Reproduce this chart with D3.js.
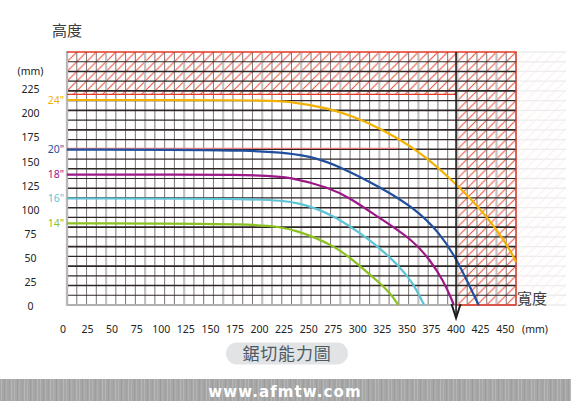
<!DOCTYPE html>
<html><head><meta charset="utf-8">
<script src="https://cdn.jsdelivr.net/npm/d3@7"></script>
<style>html,body{margin:0;padding:0;background:#fff;}svg{display:block;}</style>
</head><body>
<script>
// ---- data ----
const xTicks = [0,25,50,75,100,125,150,175,200,225,250,275,300,325,350,375,400,425,450];
const yTicks = [0,25,50,75,100,125,150,175,200,225];
const seriesNames = ['24"','20"','18"','16"','14"'];
const seriesColors = ['#f3b100','#1f4f9e','#9c1787','#5cc4d6','#8bc21f'];
const curve24X = [4,203.5,231,271.7,295.1,322.6,363.3,395.9,421.3,441.7,454.9,461];
const curve24Y = [212.3,212.3,210.8,203.5,195.3,183.3,159,129.4,103.6,77.7,57,44.5];
const curve20X = [4,210.7,254.7,281.9,322.6,356.2,383.7,401,414.2,423];
const curve20Y = [161,161,153.6,143.2,122.2,101.5,74.6,46.6,18.6,0];
const curve18X = [4,200.5,231,271.7,292.1,320.6,356.2,373.5,386.7,395.9,397.6];
const curve18Y = [135.1,135.1,132.6,121.2,110.8,91.1,67.3,46.6,25.9,5.2,0];
const curve16X = [4,207.6,241.2,275.1,302.3,320.9,343,356.2,366.4,367.6];
const curve16Y = [110.3,110.3,106.2,93.2,74.3,60.4,39.4,22.8,2.1,0];
const curve14X = [4,205.6,237.8,278.5,298.9,320.9,332.8,339.9,341];
const curve14Y = [84.6,84.6,77.7,60.4,43.2,24.1,12.4,2.1,0];
const refLineX = [4,341];
const refLineY = [162.1,162.1];
const limitWidth = 400;
const limitHeight = 218.2;

const W = 571, H = 401;
const svg = d3.select('body').append('svg').attr('width',W).attr('height',H);

const x = d3.scaleLinear().domain([0,461]).range([63,516]);
const y = d3.scaleLinear().domain([0,262]).range([305,52]);
const gx = d3.scaleLinear().domain([0,46]).range([x(4.1), x(461)]);
const gy = d3.scaleLinear().domain([0,26]).range([y(0), y(262)]);
const L = gx(0), R = gx(46), T = gy(26), B = gy(0);

const defs = svg.append('defs');
const hp = defs.append('pattern').attr('id','hatch').attr('patternUnits','userSpaceOnUse')
  .attr('width',9.76).attr('height',9.73).attr('x',L).attr('y',T);
hp.append('path').attr('d','M0,9.73 L9.76,0 M-2,2 L2,-2 M7.76,11.73 L11.76,7.73')
  .attr('stroke','#ef4a36').attr('stroke-width',1);
const bp = defs.append('pattern').attr('id','brush').attr('patternUnits','userSpaceOnUse')
  .attr('width',13).attr('height',22);
bp.append('rect').attr('width',13).attr('height',22).attr('fill','#a7a7a7');
[[1,'#b4b4b4'],[4,'#9c9c9c'],[6,'#b0b0b0'],[9,'#a0a0a0'],[11,'#b8b8b8']].forEach(([px,c])=>{
  bp.append('rect').attr('x',px).attr('y',0).attr('width',1).attr('height',22).attr('fill',c);
});

// faint extension to the right
const ext = svg.append('g').attr('opacity',0.09);
ext.append('rect').attr('x',R).attr('y',T).attr('width',50).attr('height',B-T).attr('fill','url(#hatch)');
d3.range(27).forEach(i=>{
  ext.append('line').attr('x1',R).attr('x2',R+50).attr('y1',gy(i)).attr('y2',gy(i))
    .attr('stroke','#444').attr('stroke-width',1.3);
});

// hatched zones
svg.append('rect').attr('x',L).attr('y',T).attr('width',R-L).attr('height',y(limitHeight)-T)
  .attr('fill','url(#hatch)');
svg.append('rect').attr('x',x(limitWidth)).attr('y',y(limitHeight)).attr('width',R-x(limitWidth))
  .attr('height',B-y(limitHeight)).attr('fill','url(#hatch)');

// grid
const grid = svg.append('g');
d3.range(47).forEach(i=>{
  const major = i%4===0;
  grid.append('line').attr('x1',gx(i)).attr('x2',gx(i)).attr('y1',T).attr('y2',B)
    .attr('stroke', major ? '#c2c2c2' : '#6b6464').attr('stroke-width', major ? 2.2 : 0.9);
});
d3.range(26).forEach(i=>{
  if(i===0) return;
  grid.append('line').attr('x1',L).attr('x2',R).attr('y1',gy(i)).attr('y2',gy(i))
    .attr('stroke','#2e2626').attr('stroke-width', i%2===0 ? 1.6 : 1.2);
});
grid.append('line').attr('x1',L-1).attr('x2',R).attr('y1',B).attr('y2',B)
  .attr('stroke','#b0b0b0').attr('stroke-width',2);
grid.append('line').attr('x1',L).attr('x2',L).attr('y1',T-1).attr('y2',B+1)
  .attr('stroke','#b8b8b8').attr('stroke-width',2.2);

// red borders of the zones
const red = '#e23a26';
svg.append('path').attr('fill','none').attr('stroke',red).attr('stroke-width',1.3)
  .attr('d',`M${L},${T}H${R}V${B}H${x(limitWidth)}M${L},${y(limitHeight)}H${x(limitWidth)}`);

// reference red line
svg.append('line').attr('x1',x(refLineX[0])).attr('x2',x(refLineX[1]))
  .attr('y1',y(refLineY[0])).attr('y2',y(refLineY[1])).attr('stroke','#ec7a78').attr('stroke-width',1.2);

// curves
const line = d3.line().x(d=>x(d[0])).y(d=>y(d[1])).curve(d3.curveBasis);
const curves = [[curve24X,curve24Y],[curve20X,curve20Y],[curve18X,curve18Y],[curve16X,curve16Y],[curve14X,curve14Y]];
curves.forEach(([xs,ys],k)=>{
  const pts = xs.map((v,i)=>[v,ys[i]]);
  svg.append('path').attr('d',line(pts)).attr('fill','none')
    .attr('stroke',seriesColors[k]).attr('stroke-width',2.2);
  svg.append('text').attr('x',64).attr('y',y(ys[0])).attr('dy','0.35em')
    .attr('text-anchor','end').attr('font-family','Noto Sans, sans-serif').attr('font-size',10.5)
    .attr('fill',seriesColors[k]).text(seriesNames[k]);
});

// 400 limit line with arrow
svg.append('line').attr('x1',x(limitWidth)).attr('x2',x(limitWidth)).attr('y1',T).attr('y2',318)
  .attr('stroke','#1d1d1d').attr('stroke-width',1.6);
svg.append('path').attr('fill','none').attr('stroke','#1d1d1d').attr('stroke-width',2)
  .attr('d',`M${x(limitWidth)-4.5},304 L${x(limitWidth)},318 L${x(limitWidth)+4.5},304`);

// tick labels
const tf = 'Noto Sans, sans-serif';
svg.append('g').selectAll('text').data(yTicks).join('text')
  .attr('x',30.5).attr('y',d=>y(d)+1.7).attr('dy','0.35em').attr('text-anchor','middle')
  .attr('font-family',tf).attr('font-size',10.5).attr('fill','#222').text(d=>d);
svg.append('text').attr('x',30.5).attr('y',71).attr('dy','0.35em').attr('text-anchor','middle')
  .attr('font-family',tf).attr('font-size',10.5).attr('fill','#222').text('(mm)');
svg.append('g').selectAll('text').data(xTicks).join('text')
  .attr('x',d=>x(d)).attr('y',329).attr('dy','0.35em').attr('text-anchor','middle')
  .attr('font-family',tf).attr('font-size',10.5).attr('fill','#222').text(d=>d);
svg.append('text').attr('x',535).attr('y',329).attr('dy','0.35em').attr('text-anchor','middle')
  .attr('font-family',tf).attr('font-size',10.5).attr('fill','#222').text('(mm)');

// axis titles
const cf = 'Noto Sans CJK TC, sans-serif';
svg.append('text').attr('x',52).attr('y',36).attr('font-family',cf).attr('font-size',15)
  .attr('fill','#3c3c3c').text('高度');
svg.append('text').attr('x',517).attr('y',304).attr('font-family',cf).attr('font-size',15)
  .attr('fill','#3c3c3c').text('寬度');

// pill title
svg.append('rect').attr('x',226).attr('y',342.5).attr('width',122).attr('height',22).attr('rx',11)
  .attr('fill','#e1e3e5');
svg.append('text').attr('x',287).attr('y',353.7).attr('dy','0.36em').attr('text-anchor','middle')
  .attr('font-family',cf).attr('font-size',17).attr('fill','#4d5a66').attr('letter-spacing',0.8).text('鋸切能力圖');

// bottom banner
svg.append('rect').attr('x',0).attr('y',379).attr('width',W).attr('height',22).attr('fill','url(#brush)');
svg.append('text').attr('x',285).attr('y',396.5).attr('text-anchor','middle')
  .attr('font-family','DejaVu Sans, sans-serif').attr('font-weight','bold').attr('font-size',15)
  .attr('letter-spacing',1.1).attr('fill','#fff').text('www.afmtw.com');
</script>
</body></html>
